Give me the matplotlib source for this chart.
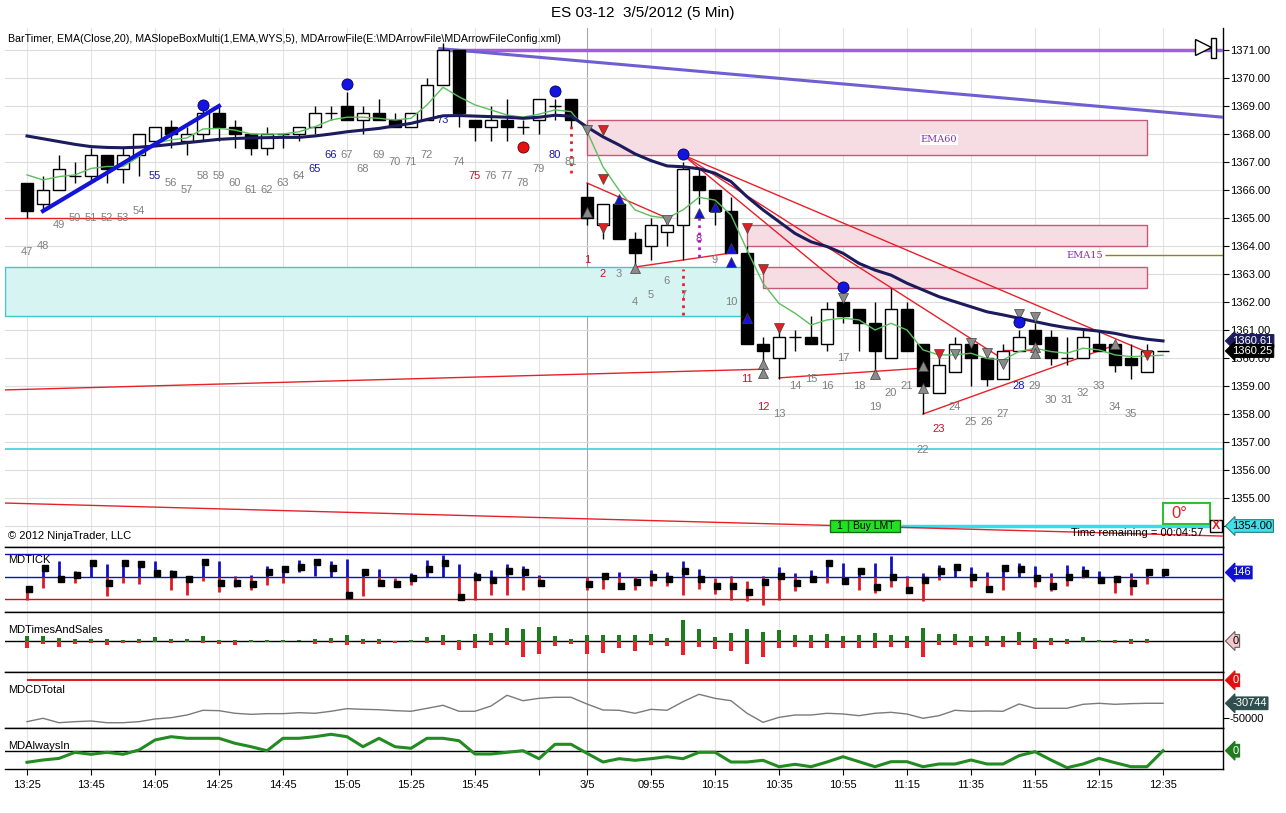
import numpy as np
import matplotlib.pyplot as plt
from matplotlib.patches import Rectangle
from matplotlib.transforms import blended_transform_factory

plt.rcParams['font.family'] = ['Liberation Sans', 'DejaVu Sans']

W, H = 1286, 813

# 5 min bars: 3/2 13:25..16:15 (bars 47..81), 3/5 09:35..12:35 (bars 1..35 + 2 unnumbered)
bar_nums = list(range(47, 82)) + list(range(1, 36)) + [None, None]

opens = [1366.25, 1365.5, 1366.0, 1366.5, 1366.5, 1367.25, 1366.75, 1367.25, 1367.75, 1368.25,
         1367.75, 1368.0, 1368.75, 1368.25, 1368.0, 1367.5, 1368.0, 1368.0, 1368.25, 1368.75,
         1369.0, 1368.5, 1368.75, 1368.5, 1368.25, 1368.5, 1369.75, 1371.0, 1368.5, 1368.25,
         1368.5, 1368.25, 1368.5, 1369.0, 1369.25,
         1365.75, 1364.75, 1365.5, 1364.25, 1364.0, 1364.5, 1364.75, 1366.5, 1366.0, 1365.25,
         1363.75, 1360.5, 1360.0, 1360.75, 1360.75, 1360.5, 1362.0, 1361.75, 1361.25, 1360.0,
         1361.75, 1360.5, 1358.75, 1359.5, 1360.5, 1360.0, 1359.25, 1360.25, 1361.0, 1360.75,
         1360.0, 1360.0, 1360.5, 1360.5, 1360.0, 1359.5, 1360.25]
highs = [1366.25, 1366.5, 1367.25, 1367.0, 1367.5, 1367.25, 1367.5, 1368.0, 1368.25, 1368.5,
         1368.25, 1369.0, 1369.0, 1368.5, 1368.0, 1368.25, 1368.0, 1368.25, 1369.0, 1369.0,
         1369.5, 1369.0, 1369.25, 1368.75, 1368.75, 1370.0, 1371.25, 1371.0, 1368.5, 1369.0,
         1369.25, 1368.5, 1369.25, 1369.25, 1369.25,
         1366.25, 1365.5, 1365.75, 1364.5, 1365.0, 1365.0, 1367.0, 1366.75, 1366.0, 1365.75,
         1364.0, 1360.75, 1361.0, 1361.0, 1361.5, 1362.0, 1362.0, 1361.75, 1362.0, 1362.5,
         1362.0, 1360.5, 1360.0, 1360.75, 1360.5, 1360.25, 1360.5, 1361.0, 1361.25, 1361.0,
         1360.75, 1361.0, 1361.0, 1360.5, 1360.5, 1360.5, 1360.25]
lows = [1365.0, 1365.25, 1366.0, 1366.25, 1366.25, 1366.25, 1366.25, 1366.5, 1367.75, 1367.5,
        1367.25, 1367.75, 1367.75, 1367.5, 1367.25, 1367.25, 1367.5, 1367.75, 1368.0, 1368.5,
        1368.5, 1368.0, 1368.5, 1368.25, 1368.25, 1368.5, 1369.75, 1368.25, 1367.75, 1367.75,
        1367.75, 1368.0, 1368.0, 1368.5, 1368.25,
        1364.75, 1364.25, 1364.25, 1363.25, 1363.5, 1364.0, 1363.5, 1365.5, 1364.75, 1363.75,
        1360.5, 1359.75, 1359.25, 1360.25, 1360.5, 1360.25, 1361.25, 1360.25, 1359.5, 1360.0,
        1360.25, 1358.0, 1358.75, 1359.5, 1359.0, 1359.0, 1359.25, 1360.25, 1360.25, 1359.75,
        1359.75, 1360.0, 1360.25, 1359.5, 1359.25, 1359.5, 1360.25]
closes = [1365.25, 1366.0, 1366.75, 1366.5, 1367.25, 1366.75, 1367.25, 1368.0, 1368.25, 1368.0,
          1368.0, 1368.75, 1368.25, 1368.0, 1367.5, 1368.0, 1368.0, 1368.25, 1368.75, 1368.75,
          1368.5, 1368.75, 1368.5, 1368.25, 1368.75, 1369.75, 1371.0, 1368.75, 1368.25, 1368.5,
          1368.25, 1368.25, 1369.25, 1369.0, 1368.5,
          1365.0, 1365.5, 1364.25, 1363.75, 1364.75, 1364.75, 1366.75, 1366.0, 1365.25, 1363.75,
          1360.5, 1360.25, 1360.75, 1360.75, 1360.5, 1361.75, 1361.5, 1361.25, 1360.25, 1361.75,
          1360.25, 1359.0, 1359.75, 1360.5, 1360.0, 1359.25, 1360.25, 1360.75, 1360.5, 1360.0,
          1360.0, 1360.75, 1360.25, 1359.75, 1359.75, 1360.25, 1360.25]

ema_fast = [1366.54, 1366.36, 1366.48, 1366.54, 1366.77, 1366.84, 1366.84, 1367.19, 1367.67, 1367.79,
            1367.86, 1368.18, 1368.2, 1368.14, 1368.0, 1368.0, 1368.0, 1368.08, 1368.26, 1368.5,
            1368.6, 1368.6, 1368.56, 1368.5, 1368.56, 1369.04, 1369.67, 1369.33, 1369.04, 1368.86,
            1368.68, 1368.6, 1368.71, 1368.86, 1368.8, 1368.1, 1366.83, 1366.0, 1365.29, 1365.07,
            1364.99, 1365.29, 1365.74, 1365.64, 1365.11, 1363.86, 1362.67, 1361.95, 1361.6, 1361.18,
            1361.36, 1361.42, 1361.36, 1361.0, 1361.24, 1361.0, 1360.29, 1360.11, 1360.11, 1360.17,
            1359.98, 1359.93, 1360.23, 1360.35, 1360.23, 1360.17, 1360.35, 1360.29, 1360.11, 1360.05,
            1360.07, 1360.1]
ema_slow = [1367.93, 1367.83, 1367.73, 1367.63, 1367.55, 1367.52, 1367.51, 1367.53, 1367.57, 1367.63,
            1367.69, 1367.75, 1367.81, 1367.84, 1367.86, 1367.87, 1367.88, 1367.88, 1367.93, 1368.0,
            1368.08, 1368.14, 1368.2, 1368.29, 1368.38, 1368.52, 1368.65, 1368.66, 1368.64, 1368.62,
            1368.6, 1368.56, 1368.6, 1368.67, 1368.64, 1368.25, 1367.9, 1367.61, 1367.29, 1367.05,
            1366.86, 1366.83, 1366.76, 1366.6, 1366.3, 1365.76, 1365.29, 1364.87, 1364.45, 1364.15,
            1363.98, 1363.74, 1363.38, 1363.14, 1362.96, 1362.67, 1362.43, 1362.19, 1362.01, 1361.83,
            1361.65, 1361.54, 1361.42, 1361.3, 1361.18, 1361.08, 1361.02, 1360.96, 1360.88, 1360.76,
            1360.67, 1360.61]

# bar number label heights and colours (g=gray b=blue r=red p=purple)
label_levels = [1363.79, 1364.0, 1364.75, 1365.0, 1365.0, 1365.0, 1365.0, 1365.25, 1366.5, 1366.25,
                1366.0, 1366.5, 1366.5, 1366.25, 1366.0, 1366.0, 1366.25, 1366.5, 1366.75, 1367.25,
                1367.25, 1366.75, 1367.25, 1367.0, 1367.0, 1367.25, 1368.5, 1367.0, 1366.5, 1366.5,
                1366.5, 1366.25, 1366.75, 1367.25, 1367.0,
                1363.5, 1363.0, 1363.0, 1362.0, 1362.25, 1362.75, 1362.25, 1364.25, 1363.5, 1362.0,
                1359.25, 1358.25, 1358.0, 1359.0, 1359.25, 1359.0, 1360.0, 1359.0, 1358.25, 1358.75,
                1359.0, 1356.7, 1357.45, 1358.25, 1357.7, 1357.7, 1358.0, 1359.0, 1359.0, 1358.5,
                1358.5, 1358.75, 1359.0, 1358.25, 1358.0, np.nan, np.nan]
label_kind = ("gggggggg" + "b" + "ggggggggg" + "bb" + "gggggg" + "b" + "g" + "r" + "gggg" + "b" + "g"
              + "rr" + "ggggg" + "p" + "gg" + "rr" + "gggggggggg" + "r" + "gggg" + "b" + "ggggggg" + "gg")
kind_color = {'g': '#7f7f7f', 'b': '#1a1aa0', 'r': '#c8102e', 'p': '#9020a0'}

# x axis
tick_idx = [0, 4, 8, 12, 16, 20, 24, 28, 32, 35, 39, 43, 47, 51, 55, 59, 63, 67, 71]
tick_lbl = ['13:25', '13:45', '14:05', '14:25', '14:45', '15:05', '15:25', '15:45', '', '3/5',
            '09:55', '10:15', '10:35', '10:55', '11:15', '11:35', '11:55', '12:15', '12:35']

# drawing objects on the price panel (bar index, price)
red_lines = [((-1.375, 1365.0), (35, 1365.0)),
             ((-1.375, 1358.86), (46, 1359.6)),
             ((-1.375, 1354.82), (74.75, 1353.64)),
             ((35, 1366.25), (40, 1365.0)),
             ((38, 1363.25), (44, 1363.75)),
             ((41, 1367.25), (51, 1362.54)),
             ((41, 1367.25), (61, 1359.96)),
             ((41, 1367.25), (70, 1360.21)),
             ((47, 1359.29), (56, 1359.64)),
             ((56, 1358.0), (68, 1360.46)),
             ((61, 1360.29), (63, 1360.29))]
blue_trend = ((1, 1365.25), (12, 1369.0))
purple_flat = ((25.8, 1371.0), (74.75, 1371.0))
purple_slope = ((25.8, 1371.05), (74.75, 1368.6))
cyan_box = (-1.375, 44.9, 1361.5, 1363.25)
pink_boxes = [(35, 70, 1367.25, 1368.5), (45, 70, 1364.0, 1364.75), (46, 70, 1362.5, 1363.25)]

tri_down_red = [(36, 1368.14), (36, 1366.39), (36, 1364.64), (45, 1364.64), (46, 1363.18),
                (47, 1361.07), (57, 1360.14), (70, 1360.11)]
tri_down_gray = [(35, 1368.14), (40, 1364.93), (51, 1362.14), (58, 1360.14), (59, 1360.54),
                 (60, 1360.18), (61, 1359.79), (62, 1361.57), (63, 1361.46)]
tri_up_gray = [(35, 1365.21), (38, 1363.21), (46, 1359.79), (46, 1359.46), (53, 1359.43),
               (56, 1359.71), (56, 1358.93), (63, 1360.39), (63, 1360.18), (68, 1360.5)]
tri_up_blue = [(37, 1365.68), (42, 1365.18), (43, 1365.39), (44, 1363.93), (44, 1363.43), (45, 1361.43)]
dots_blue = [(11, 1369.04), (20, 1369.79), (33, 1369.54), (41, 1367.29), (51, 1362.54), (62, 1361.29)]
dots_red = [(31, 1367.54)]

# lower indicators
tick_hi = [-280, 290, 490, 190, 490, 400, 490, 400, 490, 220,
           40, 500, 490, 40, 70, 340, 320, 520, 520, 490,
           550, 170, 240, -20, 120, 520, 690, 400, 150, 220,
           400, 340, 70, np.nan, np.nan, 0, 90, 150, 10, 220,
           150, 490, 250, -30, 40, -100, 40, 300, 140, 220,
           520, 440, 220, 440, 650, 40, 140, 370, 370, 300,
           150, 290, 440, 340, 140, 370, 340, 190, 0, 140,
           240, 170]
tick_lo = [-680, -330, -60, -160, 0, -560, -160, -200, 0, -400,
           -530, -100, -460, -310, -380, -230, -180, 170, 40, 0,
           -600, -580, -180, -280, -230, 0, 0, -660, -700, -530,
           -530, -400, -230, np.nan, np.nan, -380, -350, -250, -380, -260,
           -250, -530, -350, -500, -680, -730, -850, -680, -430, -60,
           -160, -100, -380, -480, -280, -430, -730, -80, 0, -280,
           -380, -400, 0, -310, -430, -250, -20, -30, -480, -550,
           -200, 0]
tick_close = [-350, 290, -50, 70, 420, -160, 420, 390, 120, 90,
              -60, 470, -180, -160, -210, 170, 250, 320, 470, 290,
              -550, 170, -180, -210, -10, 240, 420, -600, 20, -80,
              190, 170, -160, np.nan, np.nan, -200, 50, -250, -130, 20,
              -50, 190, -60, -250, -250, -460, -130, 50, -160, -60,
              420, -100, 190, -280, 20, -380, -80, 200, 320, 20,
              -350, 290, 240, -10, -250, 20, 120, -80, -60, -180,
              150, 146]
ts_buy = [15, 15, 8, 5, 5, 5, 3, 5, 11, 5,
          5, 15, 3, 3, 3, 2, 3, 2, 5, 9,
          18, 5, 5, 0, 3, 11, 18, 3, 20, 23,
          38, 35, 41, 15, 6, 17, 17, 17, 17, 20,
          8, 63, 35, 11, 23, 35, 27, 33, 17, 17,
          20, 15, 18, 23, 18, 15, 38, 21, 21, 15,
          15, 15, 27, 10, 10, 5, 12, 2, 3, 5,
          5, np.nan]
ts_sell = [20, 9, 17, 8, 7, 11, 5, 5, 3, 5,
           3, 5, 8, 11, 4, 2, 4, 1, 8, 5,
           11, 8, 8, 5, 4, 5, 11, 27, 20, 12,
           12, 47, 39, 15, 8, 39, 35, 20, 29, 12,
           14, 42, 17, 23, 29, 69, 49, 20, 17, 20,
           20, 20, 20, 20, 17, 20, 47, 12, 11, 17,
           15, 17, 11, 23, 11, 8, 2, 2, 7, 8,
           5, np.nan]
cd_total = [-55300, -50800, -56700, -55300, -54400, -56700, -56700, -55300, -51700, -50000,
            -46400, -40100, -40600, -44100, -45500, -44600, -44600, -43300, -44100, -41400,
            -37900, -38800, -39300, -40600, -41400, -37500, -33400, -41400, -41400, -34400,
            -20000, -27300, -24100, -22700, -22700, -31700, -39700, -40100, -44100, -38800,
            -40100, -28600, -18700, -24100, -27300, -44100, -56200, -49500, -46400, -46400,
            -44100, -45000, -47300, -44100, -42800, -45100, -50800, -47300, -40100, -41400,
            -41000, -41400, -31700, -37400, -37400, -37400, -32100, -30744, -32100, -31200,
            -30744, -30744]
always_in = [-11.6, -9.3, -7.7, -1.6, -3.6, -1.6, -3.6, 0.7, 10.7, 14,
             12.4, 12.4, 12.4, 7.4, 4, 0, 12.4, 12.4, 14, 16.4,
             14, 4, 12.4, 4, 2.4, 12.4, 12.4, 10, -3.3, -3.3,
             -1.6, 0, -8, 6.4, 6.4, -2.6, -11.3, -8, -9.6, -8,
             -6, -8, -1.6, -1.6, -11.3, -11.3, -9.6, -16, -13.6, -16,
             -11.3, -6, -11, -16, -11, -11, -16, -13.3, -13.3, -9.3,
             -13.3, -13.3, -5, -1, -9.3, -17, -13.3, -7.7, -12, -16,
             -16, 0]

XMIN, XMAX = -1.375, 74.75

fig = plt.figure(figsize=(W / 100, H / 100), dpi=100)
fig.patch.set_facecolor('white')


def panel(top, bottom):
    a = fig.add_axes([5 / W, 1 - bottom / H, 1218 / W, (bottom - top) / H])
    a.set_xlim(XMIN, XMAX)
    a.set_facecolor('white')
    a.spines['left'].set_visible(False)
    for s in ('right', 'top', 'bottom'):
        a.spines[s].set_color('black')
        a.spines[s].set_linewidth(1)
    a.set_xticks([])
    a.set_yticks([])
    for t in tick_idx:
        a.axvline(t, color='#a8a8a8' if t == 35 else '#e4e4e4', lw=0.8, zorder=0)
    return a


def tag(a, y, s, fc, tc='white', ec=None):
    tr = blended_transform_factory(a.transAxes, a.transData)
    a.text(1.0075, y, s, transform=tr, fontsize=8, color=tc, va='center', ha='left',
           bbox=dict(boxstyle='larrow,pad=0.12', fc=fc, ec=ec or fc, lw=0.8),
           clip_on=False, zorder=30)


ax = panel(28, 547)
ax_tick = panel(547, 612)
ax_ts = panel(612, 672)
ax_cd = panel(672, 728)
ax_ai = panel(728, 769)
ax.spines['top'].set_visible(False)

# ---------------- price panel
ax.set_ylim(1353.25, 1371.786)
for p in range(1354, 1372):
    ax.axhline(p, color='#dcdcdc', lw=0.8, zorder=0)
ax.yaxis.tick_right()
ax.set_yticks(range(1354, 1372))
ax.set_yticklabels([f'{v:.2f}' for v in range(1354, 1372)])
ax.tick_params(axis='y', length=4, pad=1, labelsize=8)

x0, x1, y0, y1 = cyan_box
ax.add_patch(Rectangle((x0, y0), x1 - x0, y1 - y0, fc='#d6f4f2', ec='#3fc8c8', lw=1, zorder=1))
for bx0, bx1, by0, by1 in pink_boxes:
    ax.add_patch(Rectangle((bx0, by0), bx1 - bx0, by1 - by0, fc='#f6dde4', ec='#c45a78', lw=1, zorder=1))
ax.text(57.0, 1367.8, 'EMA60', fontsize=7, color='#8030b0', family='DejaVu Serif',
        ha='center', va='center', zorder=6, bbox=dict(fc='white', ec='none', pad=0.5))
ax.text(66.1, 1363.65, 'EMA15', fontsize=7, color='#8030b0', family='DejaVu Serif',
        ha='center', va='center', zorder=6)
ax.hlines(1363.68, 67.4, XMAX, color='#8a8a00', lw=1, zorder=2)

ax.axhline(1356.75, color='#40d0d8', lw=1.2, zorder=2)
ax.hlines(1354.0, 54.6, 74.0, color='#30e0e8', lw=2.5, zorder=2)

for (xa, ya), (xb, yb) in red_lines:
    ax.plot([xa, xb], [ya, yb], color='#e8202a', lw=1, zorder=3)
ax.plot(*zip(*purple_flat), color='#9b5fe0', lw=2.5, zorder=3)
ax.plot(*zip(*purple_slope), color='#6f5fd0', lw=2.2, zorder=3)

x = np.arange(len(opens))
o, h, l, c = (np.array(v, dtype=float) for v in (opens, highs, lows, closes))
ax.vlines(x, l, h, color='black', lw=1, zorder=4)
up = c >= o
ax.bar(x[up], c[up] - o[up], bottom=o[up], width=0.72, color='white', edgecolor='black', lw=1, zorder=5)
ax.bar(x[~up], o[~up] - c[~up], bottom=c[~up], width=0.72, color='black', edgecolor='black', lw=1, zorder=5)

ax.plot(x, ema_fast, color='#5cbf5c', lw=1, zorder=6)
ax.plot(x, ema_slow, color='#1c1c5c', lw=2.2, zorder=6)
ax.plot(*zip(*blue_trend), color='#1414d8', lw=3, zorder=7)

ax.vlines(34, 1366.61, 1368.39, color='#e8202a', lw=2, linestyles=':', zorder=7)
ax.vlines(41, 1361.54, 1363.18, color='#e8202a', lw=2, linestyles=':', zorder=7)
ax.vlines(42, 1363.62, 1365.19, color='#b020c0', lw=2, linestyles=':', zorder=7)

for pts, mk, col in ((tri_down_red, 'v', '#e02020'), (tri_down_gray, 'v', '#8a8a8a'),
                     (tri_up_gray, '^', '#8a8a8a'), (tri_up_blue, '^', '#1414d8')):
    px, py = zip(*pts)
    ax.plot(px, py, mk, ms=7, color=col, mec='#404040', mew=0.5, ls='none', zorder=8)
px, py = zip(*dots_blue)
ax.plot(px, py, 'o', ms=8, color='#1414e0', mec='#000060', mew=0.6, ls='none', zorder=8)
px, py = zip(*dots_red)
ax.plot(px, py, 'o', ms=8, color='#e81010', mec='#600000', mew=0.6, ls='none', zorder=8)

for i, n in enumerate(bar_nums):
    if n is None:
        continue
    ax.text(i, label_levels[i], str(n), fontsize=8, color=kind_color[label_kind[i]],
            ha='center', va='center', zorder=9)

ax.text(-1.2, 1371.39, 'BarTimer, EMA(Close,20), MASlopeBoxMulti(1,EMA,WYS,5), '
        'MDArrowFile(E:\\MDArrowFile\\MDArrowFileConfig.xml)', fontsize=7.7, va='center', zorder=10)
ax.text(-1.2, 1353.64, '\u00a9 2012 NinjaTrader, LLC', fontsize=8, va='center', zorder=10)

# order / timer widgets
ax.add_patch(Rectangle((50.19, 1353.79), 4.37, 0.42, fc='#22e022', ec='#107010', lw=1, zorder=10))
ax.vlines(51.3, 1353.79, 1354.21, color='#107010', lw=1, zorder=11)
ax.text(50.75, 1354.0, '1', fontsize=7.5, ha='center', va='center', zorder=11)
ax.text(52.9, 1354.0, 'Buy LMT', fontsize=7.5, ha='center', va='center', zorder=11)
ax.add_patch(Rectangle((71.0, 1354.07), 2.94, 0.75, fc='white', ec='#30c030', lw=1.5, zorder=10))
ax.text(71.5, 1354.45, '0\u00b0', fontsize=12, color='#e02020', ha='left', va='center', zorder=11)
ax.add_patch(Rectangle((73.94, 1353.79), 0.76, 0.42, fc='white', ec='black', lw=1, zorder=10))
ax.text(74.32, 1354.0, 'X', fontsize=9, color='#e02020', fontweight='bold', ha='center', va='center', zorder=11)
ax.text(69.4, 1353.76, 'Time remaining = 00:04:57', fontsize=8, ha='center', va='center', zorder=11)
ax.plot(73.5, 1371.12, marker='>', ms=12, mfc='white', mec='black', mew=1, zorder=11, clip_on=False)
ax.add_patch(Rectangle((74.0, 1370.71), 0.3, 0.72, fc='white', ec='black', lw=1, zorder=11, clip_on=False))

tag(ax, 1360.61, '1360.61', '#1c1c5c')
tag(ax, 1360.25, '1360.25', 'black')
tag(ax, 1354.0, '1354.00', '#40e0e8', tc='black', ec='#208080')

# ---------------- MDTICK
ax_tick.set_ylim(-1055, 921)
ax_tick.axhline(700, color='#1010c0', lw=1, zorder=1)
ax_tick.axhline(0, color='#1010c0', lw=1, zorder=1)
ax_tick.axhline(-670, color='#d01010', lw=1, zorder=1)
th, tl = np.array(tick_hi, dtype=float), np.array(tick_lo, dtype=float)
ax_tick.vlines(x, np.maximum(tl, 0), np.maximum(th, 0), color='#1010c0', lw=2, zorder=2)
ax_tick.vlines(x, np.minimum(th, 0), np.minimum(tl, 0), color='#d81b25', lw=2, zorder=2)
ax_tick.plot(x + 0.15, tick_close, 's', ms=3.8, color='black', ls='none', zorder=3)
ax_tick.text(-1.2, 520, 'MDTICK', fontsize=8, va='center')
tag(ax_tick, 146, '146', '#1010d0')

# ---------------- MDTimesAndSales
ax_ts.set_ylim(-93, 87)
ax_ts.axhline(0, color='black', lw=1, zorder=1)
ax_ts.bar(x, ts_buy, width=0.3, color='#1e7b1e', zorder=2)
ax_ts.bar(x, -np.array(ts_sell, dtype=float), width=0.3, color='#e8202a', zorder=2)
ax_ts.text(-1.2, 33, 'MDTimesAndSales', fontsize=8, va='center')
tag(ax_ts, 0, '0', '#f6c6cc', tc='black', ec='#606060')

# ---------------- MDCDTotal
ax_cd.set_ylim(-63770, 11100)
ax_cd.hlines(0, 0, XMAX, color='#d82020', lw=1.5, zorder=1)
ax_cd.plot(x, cd_total, color='#7a7a7a', lw=1, zorder=2)
ax_cd.yaxis.tick_right()
ax_cd.set_yticks([-50000])
ax_cd.set_yticklabels(['-50000'])
ax_cd.tick_params(axis='y', length=4, pad=1, labelsize=8)
ax_cd.text(-1.2, -12500, 'MDCDTotal', fontsize=8, va='center')
tag(ax_cd, 0, '0', '#e01010')
tag(ax_cd, -30744, '-30744', '#2f4f4f')

# ---------------- MDAlwaysIn
ax_ai.set_ylim(-18.3, 22.7)
ax_ai.axhline(0, color='black', lw=1, zorder=1)
ax_ai.plot(x, always_in, color='#228b22', lw=2.2, zorder=2)
ax_ai.text(-1.2, 4.5, 'MDAlwaysIn', fontsize=8, va='center')
tag(ax_ai, 0, '0', '#1e7b1e')
ax_ai.set_xticks(tick_idx)
ax_ai.set_xticklabels(tick_lbl)
ax_ai.tick_params(axis='x', length=4, pad=4, labelsize=8)

fig.text(0.5, 1 - 13 / H, 'ES 03-12  3/5/2012 (5 Min)', ha='center', va='center', fontsize=11)

fig.savefig('out.png', dpi=100, facecolor='white')
